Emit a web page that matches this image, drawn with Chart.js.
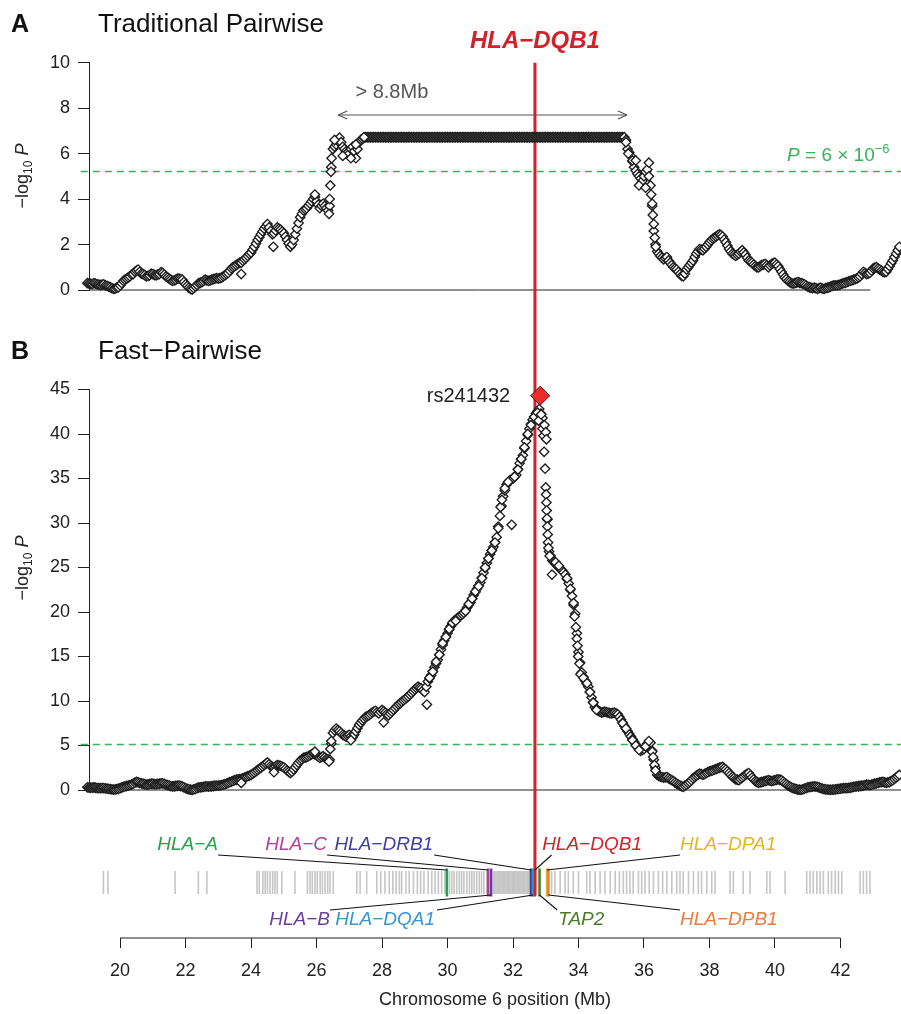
<!DOCTYPE html>
<html>
<head>
<meta charset="utf-8">
<script src="https://cdn.jsdelivr.net/npm/chart.js@4.4.1/dist/chart.umd.min.js"></script>
<style>
  html, body { margin: 0; padding: 0; background: #fff; }
  #wrap { position: relative; width: 901px; height: 1014px; overflow: hidden; }
  canvas { position: absolute; left: 0; }
</style>
</head>
<body>
<div id="wrap">
  <canvas id="chartA" width="901" height="310" style="top:0px"></canvas>
  <canvas id="chartB" width="901" height="500" style="top:310px"></canvas>
  <canvas id="chartC" width="901" height="204" style="top:810px"></canvas>
</div>
<script>
// ---------------------------------------------------------------
// data
// ---------------------------------------------------------------

// SNP positions on chromosome 6 (Mb), shared by both panels
var snpMb = [
  18.9,19.0,19.1,19.2,19.3,19.4,19.5,19.6,19.7,19.8,
  19.9,20.0,20.1,20.2,20.3,20.4,20.5,20.6,20.7,20.8,
  20.9,21.0,21.1,21.2,21.3,21.4,21.5,21.6,21.7,21.8,
  21.9,22.0,22.1,22.2,22.3,22.4,22.5,22.6,22.7,22.8,
  22.9,23.0,23.1,23.2,23.3,23.4,23.5,23.6,23.7,23.8,
  23.9,24.0,24.1,24.2,24.3,24.4,24.5,24.6,24.7,24.8,
  24.9,25.0,25.1,25.2,25.3,25.4,25.5,25.6,25.7,25.8,
  25.9,26.0,26.1,26.2,26.3,26.4,26.5,26.6,26.7,26.8,
  26.9,27.0,27.1,27.2,27.3,27.4,27.5,27.6,27.7,27.8,
  27.9,28.0,28.1,28.2,28.3,28.4,28.5,28.6,28.7,28.8,
  28.9,29.0,29.1,29.2,29.3,29.4,29.5,29.6,29.7,29.8,
  29.9,30.0,30.1,30.2,30.3,30.4,30.5,30.6,30.7,30.8,
  30.9,31.0,31.1,31.2,31.3,31.4,31.5,31.6,31.7,31.8,
  31.9,32.0,32.1,32.2,32.3,32.4,32.5,32.6,32.7,32.8,
  32.9,33.0,33.1,33.2,33.3,33.4,33.5,33.6,33.7,33.8,
  33.9,34.0,34.1,34.2,34.3,34.4,34.5,34.6,34.7,34.8,
  34.9,35.0,35.1,35.2,35.3,35.4,35.5,35.6,35.7,35.8,
  35.9,36.0,36.1,36.2,36.3,36.4,36.5,36.6,36.7,36.8,
  36.9,37.0,37.1,37.2,37.3,37.4,37.5,37.6,37.7,37.8,
  37.9,38.0,38.1,38.2,38.3,38.4,38.5,38.6,38.7,38.8,
  38.9,39.0,39.1,39.2,39.3,39.4,39.5,39.6,39.7,39.8,
  39.9,40.0,40.1,40.2,40.3,40.4,40.5,40.6,40.7,40.8,
  40.9,41.0,41.1,41.2,41.3,41.4,41.5,41.6,41.7,41.8,
  41.9,42.0,42.1,42.2,42.3,42.4,42.5,42.6,42.7,42.8,
  42.9,43.0,43.1,43.2,43.3,43.4,43.5,43.6,43.7,43.8
]

// panel A: traditional pairwise test, -log10 P
var logpTraditional = [
  0.30,0.30,0.28,0.30,0.25,0.22,0.25,0.18,0.12,0.05,
  0.10,0.20,0.40,0.50,0.60,0.70,0.85,0.80,0.70,0.60,
  0.65,0.70,0.65,0.70,0.75,0.60,0.50,0.40,0.45,0.50,
  0.45,0.25,0.10,0.02,0.15,0.30,0.35,0.45,0.40,0.45,
  0.50,0.50,0.55,0.65,0.75,0.95,1.05,1.15,1.20,1.35,
  1.50,1.65,1.90,2.20,2.45,2.70,2.90,2.60,2.50,2.75,
  2.65,2.50,2.20,1.90,2.20,2.70,3.20,3.50,3.60,3.80,
  4.00,3.90,3.60,3.80,3.60,3.70,6.20,6.40,6.70,6.30,
  6.10,6.00,6.30,5.80,6.50,6.65,6.72,6.72,6.72,6.72,
  6.72,6.72,6.72,6.72,6.72,6.72,6.72,6.72,6.72,6.72,
  6.72,6.72,6.72,6.72,6.72,6.72,6.72,6.72,6.72,6.72,
  6.72,6.72,6.72,6.72,6.72,6.72,6.72,6.72,6.72,6.72,
  6.72,6.72,6.72,6.72,6.72,6.72,6.72,6.72,6.72,6.72,
  6.72,6.72,6.72,6.72,6.72,6.72,6.72,6.72,6.72,6.72,
  6.72,6.72,6.72,6.72,6.72,6.72,6.72,6.72,6.72,6.72,
  6.72,6.72,6.72,6.72,6.72,6.72,6.72,6.72,6.72,6.72,
  6.72,6.72,6.72,6.72,6.72,6.72,6.20,5.90,5.40,5.10,
  4.90,5.00,5.30,4.60,2.60,1.70,1.50,1.35,1.45,1.20,
  1.00,0.90,0.70,0.60,0.90,1.10,1.30,1.60,1.80,1.75,
  1.90,2.10,2.25,2.35,2.45,2.35,2.10,1.80,1.60,1.50,
  1.60,1.75,1.55,1.30,1.20,1.05,1.00,1.10,1.15,1.00,
  1.15,1.20,1.05,0.80,0.55,0.40,0.30,0.30,0.35,0.30,
  0.25,0.15,0.10,0.10,0.05,0.10,0.05,0.10,0.15,0.20,
  0.20,0.25,0.30,0.35,0.40,0.45,0.50,0.60,0.80,0.70,
  0.75,0.95,1.00,0.90,0.80,0.80,1.05,1.30,1.60,1.90
]

// panel B: fast pairwise test, -log10 P
var logpFast = [
  0.28,0.30,0.25,0.28,0.22,0.20,0.22,0.15,0.10,0.05,
  0.10,0.20,0.35,0.45,0.55,0.70,0.90,0.80,0.70,0.60,
  0.65,0.70,0.65,0.70,0.75,0.60,0.50,0.40,0.45,0.50,
  0.40,0.20,0.08,0.02,0.12,0.28,0.32,0.40,0.38,0.42,
  0.48,0.50,0.55,0.65,0.80,0.95,1.10,1.20,1.25,1.40,
  1.55,1.70,1.95,2.25,2.50,2.80,3.10,2.70,2.55,2.80,
  2.70,2.55,2.20,1.90,2.30,2.80,3.30,3.60,3.70,3.90,
  4.10,3.90,3.60,3.80,3.50,3.40,6.40,6.90,6.60,6.20,
  6.00,6.20,5.90,6.60,7.30,7.80,8.20,8.40,8.70,8.90,
  8.60,9.00,8.70,8.40,8.80,9.20,9.60,9.90,10.20,10.50,
  10.90,11.30,11.60,11.40,11.00,12.20,12.90,13.80,14.60,15.80,
  16.80,17.60,18.40,19.00,19.30,19.60,19.90,20.50,21.10,21.90,
  22.60,23.30,24.40,25.50,26.50,27.30,28.40,30.80,33.00,34.30,
  34.80,35.00,35.40,36.70,37.60,39.20,40.60,41.60,42.30,42.80,
  41.80,34.00,26.80,25.80,25.40,25.00,24.70,24.20,23.20,21.80,
  19.80,15.50,13.20,12.30,11.60,10.40,9.30,8.90,8.70,8.80,
  8.70,8.60,8.70,8.50,7.90,7.20,6.60,6.00,5.40,4.80,
  4.40,4.60,5.20,5.30,3.40,1.70,1.50,1.40,1.45,1.20,
  1.00,0.70,0.50,0.35,0.60,0.90,1.30,1.60,1.85,1.70,
  1.90,2.10,2.20,2.35,2.50,2.60,2.30,1.90,1.50,1.20,
  1.10,1.40,1.70,1.90,1.40,1.00,0.80,0.90,1.00,1.10,
  1.00,1.10,1.20,1.10,0.80,0.50,0.30,0.15,0.05,0.02,
  0.15,0.30,0.35,0.40,0.35,0.20,0.10,0.05,0.02,0.05,
  0.10,0.15,0.20,0.22,0.25,0.35,0.40,0.45,0.50,0.60,
  0.55,0.65,0.75,0.85,0.90,0.80,0.90,1.10,1.40,1.70
]

// second SNP set, lying between the first ones (Mb)
var snpMbMid = [
  18.95,19.05,19.15,19.25,19.35,19.45,19.55,19.65,19.75,19.85,
  19.95,20.05,20.15,20.25,20.35,20.45,20.55,20.65,20.75,20.85,
  20.95,21.05,21.15,21.25,21.35,21.45,21.55,21.65,21.75,21.85,
  21.95,22.05,22.15,22.25,22.35,22.45,22.55,22.65,22.75,22.85,
  22.95,23.05,23.15,23.25,23.35,23.45,23.55,23.65,23.75,23.85,
  23.95,24.05,24.15,24.25,24.35,24.45,24.55,24.65,24.75,24.85,
  24.95,25.05,25.15,25.25,25.35,25.45,25.55,25.65,25.75,25.85,
  25.95,26.05,26.15,26.25,26.35,26.45,26.55,26.65,26.75,26.85,
  26.95,27.05,27.15,27.25,27.35,27.45,27.55,27.65,27.75,27.85,
  27.95,28.05,28.15,28.25,28.35,28.45,28.55,28.65,28.75,28.85,
  28.95,29.05,29.15,29.25,29.35,29.45,29.55,29.65,29.75,29.85,
  29.95,30.05,30.15,30.25,30.35,30.45,30.55,30.65,30.75,30.85,
  30.95,31.05,31.15,31.25,31.35,31.45,31.55,31.65,31.75,31.85,
  31.95,32.05,32.15,32.25,32.35,32.45,32.55,32.65,32.75,32.85,
  32.95,33.05,33.15,33.25,33.35,33.45,33.55,33.65,33.75,33.85,
  33.95,34.05,34.15,34.25,34.35,34.45,34.55,34.65,34.75,34.85,
  34.95,35.05,35.15,35.25,35.35,35.45,35.55,35.65,35.75,35.85,
  35.95,36.05,36.15,36.25,36.35,36.45,36.55,36.65,36.75,36.85,
  36.95,37.05,37.15,37.25,37.35,37.45,37.55,37.65,37.75,37.85,
  37.95,38.05,38.15,38.25,38.35,38.45,38.55,38.65,38.75,38.85,
  38.95,39.05,39.15,39.25,39.35,39.45,39.55,39.65,39.75,39.85,
  39.95,40.05,40.15,40.25,40.35,40.45,40.55,40.65,40.75,40.85,
  40.95,41.05,41.15,41.25,41.35,41.45,41.55,41.65,41.75,41.85,
  41.95,42.05,42.15,42.25,42.35,42.45,42.55,42.65,42.75,42.85,
  42.95,43.05,43.15,43.25,43.35,43.45,43.55,43.65,43.75
]
var logpTraditionalMid = [
  0.32,0.28,0.26,0.28,0.24,0.24,0.20,0.15,0.08,0.06,
  0.12,0.30,0.45,0.55,0.68,0.80,0.90,0.72,0.66,0.62,
  0.72,0.66,0.68,0.78,0.68,0.55,0.45,0.42,0.50,0.48,
  0.35,0.18,0.05,0.08,0.22,0.32,0.40,0.42,0.42,0.48,
  0.52,0.52,0.60,0.70,0.85,1.00,1.10,1.20,1.28,1.42,
  1.58,1.78,2.05,2.32,2.58,2.80,2.75,2.45,2.62,2.70,
  2.58,2.35,2.05,2.00,2.45,2.95,3.35,3.55,3.70,3.90,
  4.10,3.75,3.70,3.70,3.50,5.40,6.30,6.55,6.50,6.20,
  6.05,6.20,6.10,6.20,6.60,6.70,6.72,6.72,6.72,6.72,
  6.72,6.72,6.72,6.72,6.72,6.72,6.72,6.72,6.72,6.72,
  6.72,6.72,6.72,6.72,6.72,6.72,6.72,6.72,6.72,6.72,
  6.72,6.72,6.72,6.72,6.72,6.72,6.72,6.72,6.72,6.72,
  6.72,6.72,6.72,6.72,6.72,6.72,6.72,6.72,6.72,6.72,
  6.72,6.72,6.72,6.72,6.72,6.72,6.72,6.72,6.72,6.72,
  6.72,6.72,6.72,6.72,6.72,6.72,6.72,6.72,6.72,6.72,
  6.72,6.72,6.72,6.72,6.72,6.72,6.72,6.72,6.72,6.72,
  6.72,6.72,6.72,6.72,6.72,6.60,6.05,5.65,5.25,5.00,
  4.80,5.20,5.00,3.70,2.00,1.60,1.42,1.40,1.30,1.10,
  0.95,0.80,0.62,0.72,1.00,1.20,1.45,1.70,1.78,1.82,
  2.00,2.18,2.30,2.40,2.42,2.22,1.95,1.70,1.55,1.55,
  1.68,1.65,1.42,1.25,1.12,1.00,1.05,1.12,1.08,1.08,
  1.18,1.12,0.92,0.68,0.48,0.35,0.28,0.32,0.32,0.28,
  0.20,0.12,0.08,0.08,0.08,0.06,0.08,0.12,0.18,0.20,
  0.22,0.28,0.32,0.38,0.42,0.48,0.55,0.70,0.75,0.72,
  0.85,0.98,0.95,0.85,0.78,0.92,1.18,1.45,1.75
]
var logpFastMid = [
  0.30,0.26,0.26,0.25,0.20,0.22,0.18,0.12,0.06,0.06,
  0.14,0.28,0.40,0.50,0.62,0.82,0.86,0.74,0.66,0.62,
  0.70,0.66,0.68,0.74,0.68,0.55,0.44,0.42,0.48,0.45,
  0.30,0.12,0.04,0.06,0.20,0.30,0.36,0.40,0.40,0.45,
  0.50,0.52,0.60,0.72,0.88,1.02,1.15,1.22,1.32,1.48,
  1.62,1.82,2.10,2.38,2.65,2.95,2.90,2.60,2.68,2.75,
  2.62,2.38,2.05,2.05,2.55,3.05,3.45,3.65,3.80,4.00,
  4.00,3.75,3.70,3.65,3.45,5.20,6.70,6.75,6.40,6.10,
  6.10,6.05,6.20,6.95,7.55,8.00,8.30,8.55,8.80,8.75,
  8.80,8.85,8.55,8.60,9.00,9.40,9.75,10.05,10.35,10.70,
  11.10,11.45,11.50,11.20,11.60,12.55,13.35,14.20,15.20,16.30,
  17.20,18.00,18.70,19.15,19.45,19.75,20.20,20.80,21.50,22.25,
  22.95,23.85,24.95,26.00,26.90,27.85,29.60,31.90,33.65,34.55,
  34.90,35.20,36.05,37.15,38.40,39.90,41.10,41.95,42.55,42.30,
  38.00,30.40,26.30,25.60,25.20,24.85,24.45,23.70,22.50,20.80,
  17.60,14.30,12.70,11.95,11.00,9.85,9.10,8.80,8.75,8.75,
  8.65,8.65,8.60,8.20,7.55,6.90,6.30,5.70,5.10,4.60,
  4.50,4.90,5.25,4.40,2.50,1.60,1.45,1.42,1.32,1.10,
  0.85,0.60,0.42,0.48,0.75,1.10,1.45,1.72,1.78,1.80,
  2.00,2.15,2.28,2.42,2.55,2.45,2.10,1.70,1.35,1.15,
  1.25,1.55,1.80,1.65,1.20,0.90,0.85,0.95,1.05,1.05,
  1.05,1.15,1.15,0.95,0.65,0.40,0.22,0.10,0.04,0.08,
  0.22,0.32,0.38,0.38,0.28,0.15,0.08,0.04,0.04,0.08,
  0.12,0.18,0.21,0.24,0.30,0.38,0.42,0.48,0.55,0.58,
  0.60,0.70,0.80,0.88,0.85,0.85,1.00,1.25,1.55
]

// extra SNPs where the band is spread out: [Mb, -log10 P]
var extraTraditional = [
  [23.7,0.7],[24.68,1.9],[25.95,4.2],[26.38,3.35],[26.4,4.0],[26.42,4.6],[26.44,5.2],
  [26.46,5.8],[26.55,6.6],[26.8,5.9],[27.05,5.8],[27.2,6.4],[27.45,6.72],
  [35.45,6.5],[35.52,6.0],[35.65,5.7],[35.75,5.7],[35.85,4.6],[36.05,4.5],[36.15,5.6],
  [36.22,4.2],[36.25,3.8],[36.27,3.3],[36.3,2.9],[36.33,2.3],[36.36,1.9]
]
var extraFast = [
  [23.7,0.8],[24.7,2.0],[25.95,4.3],[26.38,3.2],[26.42,4.6],[26.45,5.5],[27.05,5.6],[28.05,7.6],
  [29.37,9.6],[29.45,12.6],[29.55,13.3],[29.65,14.4],[29.75,15.2],[29.85,16.5],[29.95,17.2],
  [30.05,18.1],[30.15,18.8],[30.25,19.0],[30.55,20.1],[30.65,20.9],[30.75,21.5],[30.85,22.3],
  [30.95,22.9],[31.05,23.8],[31.15,25.0],[31.25,26.0],[31.35,26.9],[31.45,27.8],[31.55,29.4],
  [31.62,31.8],[31.66,32.6],[31.75,33.9],[31.85,34.6],[31.96,29.8],[32.05,35.2],[32.15,36.0],
  [32.25,37.2],[32.35,38.5],[32.45,40.0],[32.55,41.0],[32.65,41.9],[32.75,42.4],[32.78,41.5],
  [32.86,42.2],[32.9,40.6],[32.93,39.8],[32.96,41.0],[33.0,40.2],[33.02,39.4],[32.98,36.1],
  [33.01,33.2],[33.02,32.3],[33.03,31.4],[33.04,30.5],[33.05,29.6],[33.06,28.7],[33.07,27.8],
  [33.08,27.2],[33.12,26.3],[33.19,24.2],[33.3,25.6],[33.4,25.2],
  [33.65,23.8],[33.75,22.6],[33.85,21.0],[33.88,19.5],[33.92,18.3],[33.95,17.0],[33.97,16.2],
  [33.99,15.0],[34.03,14.2],[34.06,13.0],[34.15,12.6],[34.26,12.0],[34.35,11.0],[34.45,9.8],
  [34.55,9.0],[35.35,7.5],[35.45,6.9],[35.65,5.6],[35.75,5.0],[35.85,4.5],[36.05,4.9],
  [36.15,5.5],[36.25,4.3],[36.28,3.7],[36.32,2.8],[36.35,2.2]
]

// top SNP of the fast pairwise scan
var topSnpName = 'rs241432'
var topSnp = [32.83, 44.3]

// genome-wide threshold
var thresholdP = 6e-6

// genes in the HLA region (Mb)
var geneNames = ['HLA\u2212A','HLA\u2212C','HLA\u2212B','HLA\u2212DRB1','HLA\u2212DQA1','HLA\u2212DQB1','TAP2','HLA\u2212DPA1','HLA\u2212DPB1']
var geneMb    = [29.98, 31.24, 31.33, 32.55, 32.61, 32.67, 32.81, 33.04, 33.08]
var geneColors = ['#22a34a','#b83c9c','#6a3ea1','#3f3f9c','#3497d3','#d0222a','#4b7d2b','#e0b52b','#f07a3a']

// other genes on the track (Mb)
var otherGeneMb = [
  19.49,19.63,21.68,22.39,22.65,
  24.18,24.25,24.36,24.43,24.50,24.58,24.66,24.73,24.80,24.94,25.34,
  25.72,25.80,25.87,25.95,26.02,26.11,26.18,26.26,26.34,26.41,26.51,
  27.23,27.33,27.53,
  27.84,27.96,28.09,28.22,28.33,28.43,28.53,28.60,28.73,28.83,28.96,29.08,29.18,29.28,
  29.41,29.52,29.62,29.72,29.82,29.92,
  30.06,30.13,30.20,30.28,30.36,30.43,30.50,30.59,30.67,30.74,30.81,30.89,30.97,31.04,31.11,31.20,
  31.40,31.44,31.48,31.52,31.56,31.60,31.63,31.67,31.71,31.75,31.79,31.83,31.86,31.90,31.94,
  31.98,32.02,32.05,32.09,32.13,32.17,32.21,32.24,32.28,32.32,32.36,32.40,32.44,32.47,32.51,
  33.18,33.28,33.44,33.59,33.69,33.84,34.00,34.25,34.35,34.51,34.66,34.81,34.97,35.12,35.25,
  35.37,35.47,35.57,35.67,35.83,35.93,36.03,36.16,36.29,36.44,36.57,36.70,36.85,37.00,37.10,
  37.20,37.36,37.51,37.66,37.76,37.92,38.07,
  38.17,38.63,38.73,39.03,39.24,39.75,39.85,40.31,
  40.97,41.07,41.17,41.28,41.38,41.48,41.63,41.73,41.84,41.94,42.04,
  42.60,42.70,42.80,42.90
]

// axis ticks
var mbTicks = [20,22,24,26,28,30,32,34,36,38,40,42]

// ---------------------------------------------------------------
// layout
// ---------------------------------------------------------------
var FONT = '"Liberation Sans", Arial, Helvetica, sans-serif'
var INK = '#222'
var RED = '#d0222a'
var GREEN = '#33b35a'
var X_MIN = 19.05      // Mb at the left edge of the plot area
var X_MAX = 43.85      // Mb at the right edge
var leadGene = 5       // HLA-DQB1
var spanMb = [26.66, 35.48]   // the > 8.8Mb arrow
var TRACK_Y = 5.55

// where each gene label sits, and where its leader line starts
var geneLabelLayout = [
  { side: 'top',    align: 'right', textMb: 22.99, lineMb: 22.99 },
  { side: 'top',    align: 'right', textMb: 26.32, lineMb: 26.32 },
  { side: 'bottom', align: 'right', textMb: 26.41, lineMb: 26.41 },
  { side: 'top',    align: 'right', textMb: 29.56, lineMb: 29.59 },
  { side: 'bottom', align: 'right', textMb: 29.62, lineMb: 29.68 },
  { side: 'top',    align: 'left',  textMb: 32.89, lineMb: 33.18 },
  { side: 'bottom', align: 'left',  textMb: 33.38, lineMb: 33.35 },
  { side: 'top',    align: 'left',  textMb: 37.10, lineMb: 37.10 },
  { side: 'bottom', align: 'left',  textMb: 37.10, lineMb: 37.10 }
]

Chart.defaults.font.family = FONT
Chart.defaults.color = INK

function toPoints(xs, ys) {
  return xs.map(function (x, i) { return { x: x, y: ys[i] } })
}
function pairsToPoints(pairs) {
  return pairs.map(function (p) { return { x: p[0], y: p[1] } })
}
// both SNP sets as one left-to-right series, so the diamonds overlap in order
function scanPoints(ysMain, ysMid) {
  return toPoints(snpMb, ysMain).concat(toPoints(snpMbMid, ysMid))
    .sort(function (a, b) { return a.x - b.x })
}

// write text made of several pieces (different fonts / raised or lowered)
function richText(ctx, parts, x, y, align) {
  var w = 0
  parts.forEach(function (p) { ctx.font = p.font; w += ctx.measureText(p.text).width })
  var cx = align === 'right' ? x - w : (align === 'center' ? x - w / 2 : x)
  ctx.textAlign = 'left'
  ctx.textBaseline = 'alphabetic'
  parts.forEach(function (p) {
    ctx.font = p.font
    ctx.fillText(p.text, cx, y + (p.dy || 0))
    cx += ctx.measureText(p.text).width
  })
}

function seg(ctx, x1, y1, x2, y2, color, width, dash) {
  ctx.save()
  ctx.strokeStyle = color
  ctx.lineWidth = width
  ctx.setLineDash(dash || [])
  ctx.beginPath()
  ctx.moveTo(x1, y1)
  ctx.lineTo(x2, y2)
  ctx.stroke()
  ctx.restore()
}

function yTitle(ctx, cx, cy) {
  ctx.save()
  ctx.translate(cx, cy)
  ctx.rotate(-Math.PI / 2)
  ctx.fillStyle = INK
  richText(ctx, [
    { text: '\u2212log', font: '18px ' + FONT },
    { text: '10', font: '12px ' + FONT, dy: 4 },
    { text: ' ', font: '18px ' + FONT },
    { text: 'P', font: 'italic 18px ' + FONT }
  ], 0, 6, 'center')
  ctx.restore()
}

function panelTitle(ctx, letter, name, baseline) {
  ctx.save()
  ctx.fillStyle = '#111'
  ctx.textAlign = 'left'
  ctx.textBaseline = 'alphabetic'
  ctx.font = 'bold 25px ' + FONT
  ctx.fillText(letter, 11, baseline)
  ctx.font = '26px ' + FONT
  ctx.fillText(name, 98, baseline)
  ctx.restore()
}

var diamond = {
  pointStyle: 'rectRot',
  pointRadius: 4.7,
  pointBackgroundColor: '#fff',
  pointBorderColor: '#1c1c1c',
  pointBorderWidth: 1.35,
  showLine: false,
  clip: false
}

function panelOptions(top, yMax, yStep) {
  return {
    responsive: false,
    animation: false,
    devicePixelRatio: 1,
    events: [],
    layout: { autoPadding: false, padding: { top: top, bottom: 20, left: 0, right: 0 } },
    plugins: { legend: { display: false }, tooltip: { enabled: false } },
    scales: {
      x: { type: 'linear', min: X_MIN, max: X_MAX, display: false },
      y: {
        type: 'linear', min: 0, max: yMax,
        afterFit: function (s) { s.width = 89 },
        ticks: { stepSize: yStep, color: INK, font: { size: 18, family: FONT }, padding: 8 },
        grid: { drawOnChartArea: false, tickLength: 11, color: INK, lineWidth: 1 },
        border: { display: true, color: INK, width: 1 }
      }
    }
  }
}

// ---------------------------------------------------------------
// panel A
// ---------------------------------------------------------------
var panelADecor = {
  id: 'panelADecor',
  beforeDatasetsDraw: function (chart) {
    var ctx = chart.ctx, x = chart.scales.x, y = chart.scales.y, area = chart.chartArea
    var y0 = y.getPixelForValue(0)
    seg(ctx, area.left, y0, x.getPixelForValue(42.91), y0, INK, 1)
    var yt = Math.round(y.getPixelForValue(-Math.log10(thresholdP))) + 0.5
    seg(ctx, x.getPixelForValue(18.8), yt, area.right, yt, GREEN, 1.4, [7, 5])
    var xr = x.getPixelForValue(geneMb[leadGene])
    seg(ctx, xr, y.getPixelForValue(10), xr, chart.height, RED, 3)
  },
  afterDatasetsDraw: function (chart) {
    var ctx = chart.ctx, x = chart.scales.x, y = chart.scales.y
    panelTitle(ctx, 'A', 'Traditional Pairwise', 32)
    yTitle(ctx, 22, 176)

    // gene name over the red line
    ctx.save()
    ctx.fillStyle = RED
    ctx.font = 'bold italic 24px ' + FONT
    ctx.textAlign = 'center'
    ctx.textBaseline = 'alphabetic'
    ctx.fillText(geneNames[leadGene], x.getPixelForValue(geneMb[leadGene]), 48)
    ctx.restore()

    // double arrow for the > 8.8Mb block
    var ya = y.getPixelForValue(7.7)
    var xa = x.getPixelForValue(spanMb[0]), xb = x.getPixelForValue(spanMb[1])
    seg(ctx, xa, ya, xb, ya, '#555', 1.2)
    seg(ctx, xa, ya, xa + 9, ya - 4, '#555', 1.2)
    seg(ctx, xa, ya, xa + 9, ya + 4, '#555', 1.2)
    seg(ctx, xb, ya, xb - 9, ya - 4, '#555', 1.2)
    seg(ctx, xb, ya, xb - 9, ya + 4, '#555', 1.2)
    ctx.save()
    ctx.fillStyle = '#555'
    ctx.font = '20px ' + FONT
    ctx.textAlign = 'center'
    ctx.textBaseline = 'alphabetic'
    ctx.fillText('> 8.8Mb', x.getPixelForValue(28.3), y.getPixelForValue(8.45))
    ctx.restore()

    // threshold label
    ctx.save()
    ctx.fillStyle = GREEN
    richText(ctx, [
      { text: 'P', font: 'italic 19px ' + FONT },
      { text: ' = 6 \u00d7 10', font: '19px ' + FONT },
      { text: '\u22126', font: '13px ' + FONT, dy: -8 }
    ], x.getPixelForValue(40.37), y.getPixelForValue(5.68), 'left')
    ctx.restore()
  }
}

new Chart(document.getElementById('chartA'), {
  type: 'scatter',
  data: {
    datasets: [
      Object.assign({ data: pairsToPoints(extraTraditional), order: 1 }, diamond),
      Object.assign({ data: scanPoints(logpTraditional, logpTraditionalMid), order: 2 }, diamond)
    ]
  },
  options: panelOptions(62.7, 10, 2),
  plugins: [panelADecor]
})

// ---------------------------------------------------------------
// panel B
// ---------------------------------------------------------------
var panelBDecor = {
  id: 'panelBDecor',
  beforeDatasetsDraw: function (chart) {
    var ctx = chart.ctx, x = chart.scales.x, y = chart.scales.y, area = chart.chartArea
    var y0 = y.getPixelForValue(0)
    seg(ctx, area.left, y0, area.right, y0, INK, 1)
    var yt = Math.round(y.getPixelForValue(-Math.log10(thresholdP))) + 0.5
    seg(ctx, x.getPixelForValue(18.8), yt, area.right, yt, GREEN, 1.4, [7, 5])
    var xr = x.getPixelForValue(geneMb[leadGene])
    seg(ctx, xr, 0, xr, chart.height, RED, 3)
  },
  afterDatasetsDraw: function (chart) {
    var ctx = chart.ctx, x = chart.scales.x, y = chart.scales.y
    panelTitle(ctx, 'B', 'Fast\u2212Pairwise', 49)
    yTitle(ctx, 22, 258)
    ctx.save()
    ctx.fillStyle = INK
    ctx.font = '20px ' + FONT
    ctx.textAlign = 'right'
    ctx.textBaseline = 'middle'
    ctx.fillText(topSnpName, x.getPixelForValue(topSnp[0]) - 30, y.getPixelForValue(topSnp[1]) + 1)
    ctx.restore()
  }
}

new Chart(document.getElementById('chartB'), {
  type: 'scatter',
  data: {
    datasets: [
      {
        data: [{ x: topSnp[0], y: topSnp[1] }], order: 0,
        pointStyle: 'rectRot', pointRadius: 9.5, pointBackgroundColor: '#ee2b2b',
        pointBorderColor: '#3a1a1a', pointBorderWidth: 1, showLine: false, clip: false
      },
      Object.assign({ data: pairsToPoints(extraFast), order: 1 }, diamond),
      Object.assign({ data: scanPoints(logpFast, logpFastMid), order: 2 }, diamond)
    ]
  },
  options: panelOptions(79.5, 45, 5),
  plugins: [panelBDecor]
})

// ---------------------------------------------------------------
// gene track + position axis
// ---------------------------------------------------------------
var trackDecor = {
  id: 'trackDecor',
  beforeDatasetsDraw: function (chart) {
    var ctx = chart.ctx, x = chart.scales.x, y = chart.scales.y, area = chart.chartArea
    var xr = x.getPixelForValue(geneMb[leadGene])
    seg(ctx, xr, 0, xr, y.getPixelForValue(4.3), RED, 3)
    seg(ctx, x.getPixelForValue(mbTicks[0]), area.bottom, x.getPixelForValue(mbTicks[mbTicks.length - 1]), area.bottom, INK, 1)
  },
  afterDatasetsDraw: function (chart) {
    var ctx = chart.ctx, x = chart.scales.x, y = chart.scales.y
    geneLabelLayout.forEach(function (lab, i) {
      var top = lab.side === 'top'
      var lx = x.getPixelForValue(lab.lineMb)
      var ly = y.getPixelForValue(top ? 8.3 : 2.8)
      var gx = x.getPixelForValue(geneMb[i])
      var gy = y.getPixelForValue(top ? 6.8 : 4.3)
      seg(ctx, lx, ly, gx, gy, '#111', 1.1)
      ctx.save()
      ctx.fillStyle = geneColors[i]
      ctx.font = 'italic 19px ' + FONT
      ctx.textAlign = lab.align
      ctx.textBaseline = 'alphabetic'
      ctx.fillText(geneNames[i], x.getPixelForValue(lab.textMb), y.getPixelForValue(top ? 8.8 : 1.3))
      ctx.restore()
    })
  }
}

new Chart(document.getElementById('chartC'), {
  type: 'scatter',
  data: {
    datasets: [
      {
        data: geneMb.map(function (m) { return { x: m, y: TRACK_Y } }), order: 1,
        pointStyle: 'line', pointRotation: 90, pointRadius: 14,
        pointBorderColor: geneColors, pointBorderWidth: 2.6, showLine: false, clip: false
      },
      {
        data: otherGeneMb.map(function (m) { return { x: m, y: TRACK_Y } }), order: 2,
        pointStyle: 'line', pointRotation: 90, pointRadius: 11.5,
        pointBorderColor: '#c6c6c6', pointBorderWidth: 1.6, showLine: false, clip: false
      }
    ]
  },
  options: {
    responsive: false,
    animation: false,
    devicePixelRatio: 1,
    events: [],
    layout: { autoPadding: false, padding: { top: 28, bottom: 0, left: 89, right: 0 } },
    plugins: { legend: { display: false }, tooltip: { enabled: false } },
    scales: {
      x: {
        type: 'linear', min: X_MIN, max: X_MAX, position: 'bottom',
        afterFit: function (s) { s.height = 76 },
        afterBuildTicks: function (s) { s.ticks = mbTicks.map(function (v) { return { value: v } }) },
        ticks: { color: INK, font: { size: 18, family: FONT }, padding: 12, maxRotation: 0, autoSkip: false },
        grid: { drawOnChartArea: false, tickLength: 10, color: INK, lineWidth: 1 },
        border: { display: false },
        title: {
          display: true, text: 'Chromosome 6 position (Mb)', color: INK,
          font: { size: 18, family: FONT }, padding: { top: 0, bottom: 3 }
        }
      },
      y: { type: 'linear', min: 0, max: 10, display: false }
    }
  },
  plugins: [trackDecor]
})
</script>
</body>
</html>
